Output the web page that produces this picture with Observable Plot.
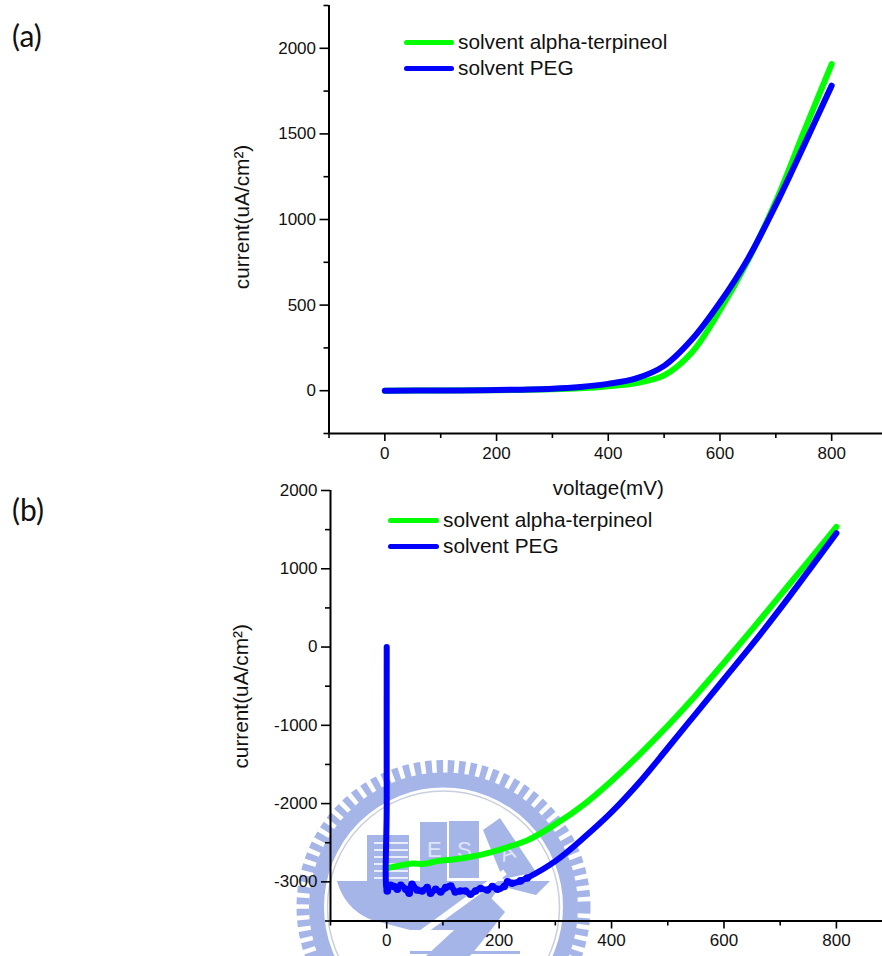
<!DOCTYPE html>
<html>
<head>
<meta charset="utf-8">
<script src="https://cdn.jsdelivr.net/npm/d3@7"></script>
<script src="https://cdn.jsdelivr.net/npm/@observablehq/plot@0.6"></script>
<style>
  html, body { margin: 0; padding: 0; background: #fff; }
  #page { position: relative; width: 882px; height: 956px; overflow: hidden; font-family: "Liberation Sans", Arial, sans-serif; color: #111; }
  #page > * { position: absolute; }
  .panel { font-family: Lato, "Open Sans", sans-serif; font-size: 30px; color: #111; line-height: 1; }
  .leg { display: flex; align-items: center; font-size: 20.8px; line-height: 1; white-space: nowrap; height: 26px; }
  .leg i { display: block; height: 5px; border-radius: 3px; margin-right: 4px; }
</style>
</head>
<body>
<div id="page"></div>
<script>
const series = ["solvent alpha-terpineol", "solvent PEG"];
const seriesColors = ["#00ff00", "#0000ff"];

// Panel (a)
const aGreenV = [0,100,200,300,350,400,450,500,550,600,650,700,750,800];
const aGreenI = [0,1,3,8,14,26,45,90,225,470,760,1105,1510,1908];
const aBlueV  = [0,100,200,300,350,400,450,500,550,600,650,700,750,800];
const aBlueI  = [0,1,4,12,22,40,72,145,300,515,770,1085,1430,1782];

// Panel (b)
const bGreenV = [3,7,25,45,66,90,125,150,185,200,250,300,350,400,450,500,550,600,650,700,750,800];
const bGreenI = [-2825,-2816,-2790,-2765,-2770,-2735,-2709,-2680,-2624,-2590,-2470,-2265,-2015,-1710,-1370,-1005,-615,-200,225,660,1095,1535];
const bBlueV  = [0,0,1,7,13,19,25,34,40,45,54,63,72,78,87,96,105,114,122,131,140,149,158,167,179,188,197,209,215,223,238,250,300,350,400,450,500,550,600,650,700,750,800];
const bBlueI  = [0,-2000,-3116,-3043,-3060,-3095,-3043,-3095,-3146,-3030,-3103,-3116,-3073,-3146,-3095,-3129,-3073,-3052,-3129,-3116,-3116,-3159,-3116,-3086,-3103,-3060,-3095,-3060,-3000,-3018,-2988,-2950,-2735,-2440,-2110,-1725,-1290,-850,-410,30,490,970,1455];

const xMajor = [0,200,400,600,800];
const xMinor = [-100,100,300,500,700];
const aYMajor = [0,500,1000,1500,2000];
const aYMinor = [-250,250,750,1250,1750,2250];
const bYMajor = [-3000,-2000,-1000,0,1000,2000];
const bYMinor = [-3500,-2500,-1500,-500,500,1500];

const yTitle = "current(uA/cm²)";
const xTitle = "voltage(mV)";

const rows = (v, i, s) => v.map((x, k) => ({x, y: i[k], s}));
const ink = "#000";
const labelInk = "#111";

function panel({green, blue, noisy, xDomain, yDomain, yMajor, yMinor, height, marginTop, marginBottom, marginLeft, extra}) {
  return Plot.plot({
    width: 882, height, marginTop, marginBottom, marginLeft, marginRight: 0,
    style: {background: "transparent", fontFamily: "'Liberation Sans', Arial, sans-serif", overflow: "visible"},
    x: {domain: xDomain},
    y: {domain: yDomain},
    marks: [
      Plot.line(green, {x: "x", y: "y", stroke: seriesColors[0], strokeWidth: 6, strokeLinecap: "round", strokeLinejoin: "round", curve: "catmull-rom"}),
      Plot.line(blue, {x: "x", y: "y", stroke: seriesColors[1], strokeWidth: 6, strokeLinecap: "round", strokeLinejoin: "round", curve: "catmull-rom"}),
      Plot.dot(noisy, {x: "x", y: "y", r: 3.8, fill: seriesColors[1], stroke: "none"}),
      Plot.axisX({ticks: xMajor, tickSize: 8, tickPadding: 5, tickFormat: d3.format("d"), fontSize: 17, stroke: ink, strokeWidth: 1.6, fill: labelInk, label: null}),
      Plot.axisX({ticks: xMinor, tickSize: 5, tickFormat: () => "", stroke: ink, strokeWidth: 1.6, label: null}),
      Plot.axisY({ticks: yMajor, tickSize: 9, tickPadding: 4, tickFormat: d => String(d), fontSize: 17, stroke: ink, strokeWidth: 1.6, fill: labelInk, label: null}),
      Plot.axisY({ticks: yMinor, tickSize: 5, tickFormat: () => "", stroke: ink, strokeWidth: 1.6, label: null}),
      Plot.ruleY([yDomain[0]], {stroke: ink, strokeWidth: 2}),
      Plot.ruleX([xDomain[0]], {stroke: ink, strokeWidth: 2}),
      ...extra
    ]
  });
}

const page = document.getElementById("page");

// Faint seal watermark behind panel (b)
const wm = document.createElementNS("http://www.w3.org/2000/svg", "svg");
wm.setAttribute("width", 882); wm.setAttribute("height", 956);
wm.setAttribute("style", "left:0;top:0");
wm.innerHTML = `
 <g fill="#a5b5e8" stroke="none">
  <circle cx="443.5" cy="907" r="140.5" fill="none" stroke="#a5b5e8" stroke-width="13" stroke-dasharray="6.5 4.6"/>
  <circle cx="443.5" cy="907" r="127" fill="none" stroke="#a5b5e8" stroke-width="15"/>
  <circle cx="443.5" cy="907" r="116" fill="none" stroke="#c9cfdc" stroke-width="1.5"/>
  <rect x="367" y="835" width="42" height="46"/>
  <rect x="420" y="822" width="27" height="59"/>
  <rect x="449" y="821" width="30" height="57"/>
  <polygon points="483,830 500,818 536,872 503,879"/>
  <path d="M337,881 H550 L536,895 L500,886 L470,930 H410 L372,920 C352,912 342,898 337,881 Z"/>
  <polygon points="426,956 490,897 505,912 480,944 470,956"/>
  <rect x="410" y="951" width="110" height="3"/>
 </g>
 <g stroke="#fff" stroke-width="1.6" fill="none">
  <path d="M374,843H408M374,850H408M374,857H408M374,864H408M374,871H408M374,878H408"/>
  <path d="M390,956L505,872" stroke-width="6"/>
 </g>
 <g fill="#dfe5f7" font-family="'Liberation Sans',Arial,sans-serif" font-size="22">
  <text x="427" y="857">E</text>
  <text x="457" y="857">S</text>
  <text x="503" y="862" transform="rotate(-20 503 862)">A</text>
 </g>`;
page.appendChild(wm);

const a = panel({
  green: rows(aGreenV, aGreenI, series[0]),
  blue: rows(aBlueV, aBlueI, series[1]),
  noisy: [],
  xDomain: [-100, 891], yDomain: [-250, 2250],
  yMajor: aYMajor, yMinor: aYMinor,
  height: 500, marginTop: 5, marginBottom: 67, marginLeft: 328.5,
  extra: [
    Plot.text([xTitle], {x: () => 400, y: () => -250, dy: 55, fontSize: 20.6, fill: labelInk, text: d => d}),
    Plot.text([yTitle], {x: () => -100, y: () => 1015, dx: -87, rotate: -90, fontSize: 20.8, fill: labelInk, text: d => d})
  ]
});
a.style.left = "0"; a.style.top = "0";
page.appendChild(a);

const bBlue = rows(bBlueV, bBlueI, series[1]);
const b = panel({
  green: rows(bGreenV, bGreenI, series[0]),
  blue: bBlue,
  noisy: bBlue.filter(d => d.y < -2900),
  xDomain: [-100, 882], yDomain: [-3500, 2000],
  yMajor: bYMajor, yMinor: bYMinor,
  height: 476, marginTop: 10, marginBottom: 35.5, marginLeft: 330,
  extra: [
    Plot.text([yTitle], {x: () => -100, y: () => -630, dx: -89, rotate: -90, fontSize: 20.8, fill: labelInk, text: d => d})
  ]
});
b.style.left = "0"; b.style.top = "480px";
page.appendChild(b);

function legend(left, top, lw) {
  series.forEach((name, k) => {
    const row = document.createElement("div");
    row.className = "leg";
    row.style.left = left + "px";
    row.style.top = (top + k * 26 - 13) + "px";
    const sw = document.createElement("i");
    sw.style.width = lw + "px";
    sw.style.background = seriesColors[k];
    row.appendChild(sw);
    row.appendChild(document.createTextNode(name));
    page.appendChild(row);
  });
}
legend(404, 42, 50);
legend(388, 520, 51);

[["(a)", 12, 20], ["(b)", 12, 494]].forEach(([t, l, y]) => {
  const d = document.createElement("div");
  d.className = "panel"; d.textContent = t;
  d.style.left = l + "px"; d.style.top = y + "px";
  page.appendChild(d);
});
</script>
</body>
</html>
